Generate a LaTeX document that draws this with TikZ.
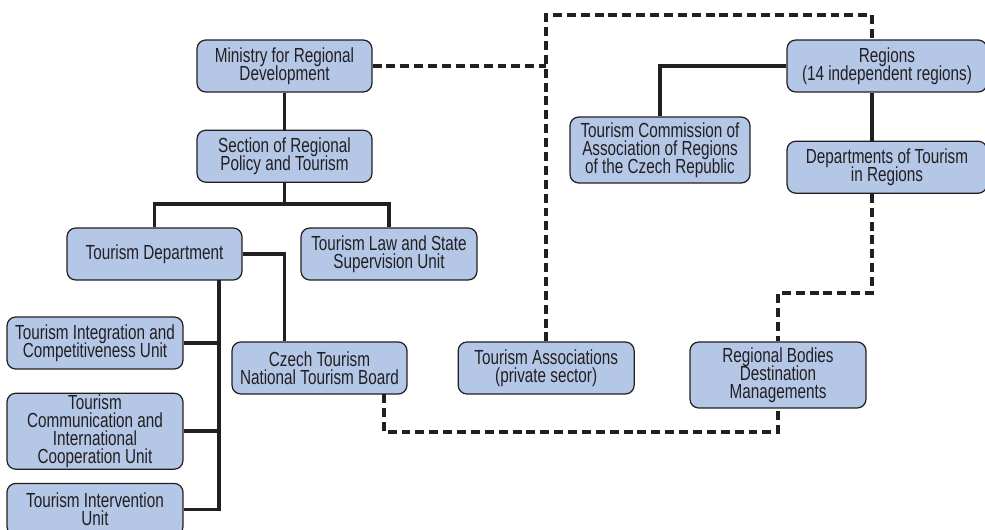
\documentclass[tikz,border=0pt]{standalone}
\usepackage{fontspec}
\setmainfont{Liberation Sans}[FakeStretch=0.75]
\usepackage{tikz}
\usepackage{xcolor}
\usetikzlibrary{positioning}
\definecolor{boxblue}{RGB}{180,199,231}
\definecolor{inkgray}{RGB}{35,31,32}
\newcommand{\unitfont}{\fontsize{11.6pt}{10.1pt}\selectfont\setlength{\lineskiplimit}{-10pt}}

\begin{document}
\begin{tikzpicture}[
  x=0.02cm, y=-0.02cm,
  unit/.style={rectangle, draw=inkgray, line width=0.7pt, fill=boxblue, rounded corners=5pt,
               minimum height=1.04cm, minimum width=3.5cm, inner sep=1pt, align=center,
               text=inkgray, font=\unitfont},
  link/.style={line width=2pt, inkgray},
  dashlink/.style={line width=2pt, inkgray, dash pattern=on 5.1pt off 2.8pt}
]
\useasboundingbox (0,0) rectangle (985,530);
\clip (0,0) rectangle (985,530);

% ministry side
\node[unit] (ministry) at (284.5,66) {Ministry for Regional\\Development};
\node[unit, below=0.74cm of ministry] (section) {Section of Regional\\Policy and Tourism};
\node[unit] (tdept) at (154.5,254) {Tourism Department};
\node[unit, minimum width=3.52cm] (lawunit) at (389,254) {Tourism Law and State\\Supervision Unit};
\node[unit, minimum width=3.52cm] (integ) at (95,343) {Tourism Integration and\\Competitiveness Unit};
\node[unit, minimum width=3.52cm, minimum height=1.52cm, below=0.46cm of integ] (commun)
  {Tourism\\Communication and\\International\\Cooperation Unit};
\node[unit, minimum width=3.52cm, below=0.26cm of commun] (interv) {Tourism Intervention\\Unit};
\node[unit] (czech) at (319.5,368) {Czech Tourism\\National Tourism Board};
\node[unit, minimum width=3.52cm, right=1cm of czech] (assoc) {Tourism Associations\\(private sector)};

% regions side
\node[unit, minimum width=4cm] (regions) at (887,66) {Regions\\(14 independent regions)};
\node[unit, minimum width=4cm, below=0.96cm of regions] (depts) {Departments of Tourism\\in Regions};
\node[unit, minimum width=3.6cm, minimum height=1.32cm] (commis) at (660,150)
  {Tourism Commission of\\Association of Regions\\of the Czech Republic};
\node[unit, minimum width=3.52cm, minimum height=1.32cm] (bodies) at (778,375)
  {Regional Bodies\\Destination\\Managements};

\coordinate (split) at (284.5,204);
\coordinate (trunk) at (219,280);
\coordinate (rcol) at (872,0);
\coordinate (toprow) at (0,15);
\coordinate (midrow) at (0,293);
\coordinate (lowrow) at (0,432);
\coordinate (czdrop) at (384,394);

% solid lines
\draw[link] (ministry) -- (section);
\draw[link] (section) -- (split);
\draw[link] (tdept.north) |- (split) -| (lawunit.north);
\draw[link] (tdept.east) -| (czech.north -| section.south);
\draw[link] (trunk) |- (interv.east);
\draw[link] (integ.east) -- (integ.east -| trunk);
\draw[link] (commun.east) -- (commun.east -| trunk);
\draw[link] (regions.west) -| (commis.north);
\draw[link] (regions.south -| rcol) -- (depts.north -| rcol);

% dashed lines
\draw[dashlink] (ministry.east) -- (ministry.east -| assoc.north);
\draw[dashlink] (assoc.north) |- (toprow -| rcol) -- (regions.north -| rcol);
\draw[dashlink] (depts.south -| rcol) -- (midrow -| rcol) -| (bodies.north);
\draw[dashlink] (czdrop) |- (lowrow -| bodies.south) -- (bodies.south);
\end{tikzpicture}
\end{document}
